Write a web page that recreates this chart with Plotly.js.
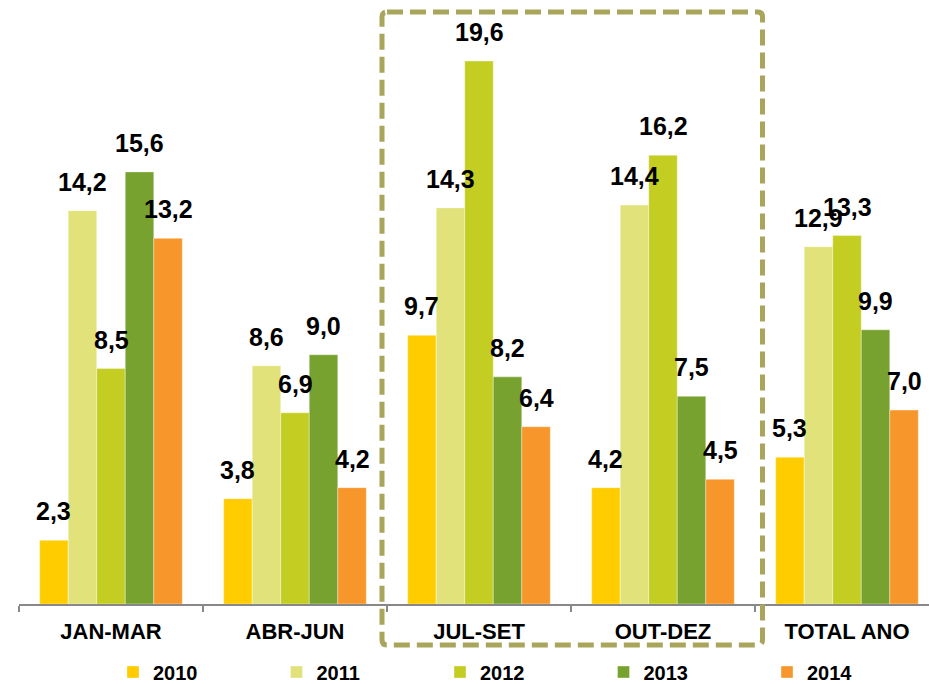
<!DOCTYPE html>
<html>
<head>
<meta charset="utf-8">
<script src="https://cdn.plot.ly/plotly-3.0.1.min.js"></script>
<style>html,body{margin:0;padding:0;background:#fff;}#chart{width:929px;height:684px;}</style>
</head>
<body>
<div id="chart"></div>
<script>
const categories = ['JAN-MAR', 'ABR-JUN', 'JUL-SET', 'OUT-DEZ', 'TOTAL ANO'];
const seriesNames = ['2010', '2011', '2012', '2013', '2014'];
const v2010 = [2.3, 3.8, 9.7, 4.2, 5.3];
const v2011 = [14.2, 8.6, 14.3, 14.4, 12.9];
const v2012 = [8.5, 6.9, 19.6, 16.2, 13.3];
const v2013 = [15.6, 9.0, 8.2, 7.5, 9.9];
const v2014 = [13.2, 4.2, 6.4, 4.5, 7.0];
const seriesValues = [v2010, v2011, v2012, v2013, v2014];
const colors = ['#FFCC00', '#E1E37A', '#C3CD22', '#78A22F', '#F7962B'];

const W = 929, H = 684;
const ml = 19, mb = 80, mt = 0, mr = 0;
const catPx = 184;          // pixel width of one category
const pxPerUnit = 27.7;     // vertical scale
const plotW = W - ml - mr, plotH = H - mt - mb;
const bargap = 0.225;
const nS = seriesValues.length;
const barW = (1 - bargap) / nS;

const fmt = v => v.toFixed(1).replace('.', ',');

const traces = seriesValues.map((vals, k) => ({
  type: 'bar',
  name: seriesNames[k],
  x: categories,
  y: vals,
  marker: {color: colors[k], line: {color: 'rgba(255,255,255,0.6)', width: 0.6}},
  hoverinfo: 'skip'
}));

const annotations = [];
seriesValues.forEach((vals, k) => {
  vals.forEach((v, i) => {
    annotations.push({
      x: i + (k - (nS - 1) / 2) * barW,
      y: v,
      xref: 'x', yref: 'y',
      text: fmt(v),
      showarrow: false,
      xanchor: 'center', yanchor: 'bottom',
      yshift: 13,
      font: {family: 'Liberation Sans, Arial, sans-serif', size: 25, color: '#000', weight: 'bold'}
    });
  });
});

// dashed highlight box (paper coordinates)
const bx0 = (382 - ml) / plotW, bx1 = (762.5 - ml) / plotW;
const by1 = 1 - (12 - mt) / plotH, by0 = 1 - (645 - mt) / plotH;
const rx = 5 / plotW, ry = 5 / plotH;
const boxPath = `M${bx0 + rx},${by1} L${bx1 - rx},${by1} Q${bx1},${by1} ${bx1},${by1 - ry} ` +
  `L${bx1},${by0 + ry} Q${bx1},${by0} ${bx1 - rx},${by0} L${bx0 + rx},${by0} ` +
  `Q${bx0},${by0} ${bx0},${by0 + ry} L${bx0},${by1 - ry} Q${bx0},${by1} ${bx0 + rx},${by1} Z`;

const layout = {
  width: W, height: H,
  margin: {l: ml, r: mr, t: mt, b: mb, pad: 0, autoexpand: false},
  paper_bgcolor: '#fff', plot_bgcolor: '#fff',
  barmode: 'group', bargap: bargap, bargroupgap: 0,
  showlegend: true,
  font: {family: 'Liberation Sans, Arial, sans-serif', color: '#000'},
  xaxis: {
    type: 'category',
    range: [-0.5, -0.5 + plotW / catPx],
    automargin: false,
    showline: true, linecolor: '#888888', linewidth: 2,
    ticks: 'outside', tickson: 'boundaries', ticklen: 6, tickwidth: 2, tickcolor: '#888888',
    showgrid: false, zeroline: false,
    tickfont: {family: 'Liberation Sans, Arial, sans-serif', size: 22, color: '#000', weight: 'bold'},
    ticklabelstandoff: 7
  },
  yaxis: {
    range: [0, plotH / pxPerUnit],
    automargin: false,
    showticklabels: false, showgrid: false, zeroline: false, showline: false, ticks: ''
  },
  legend: {
    orientation: 'h',
    x: (522 - ml) / plotW, xanchor: 'center',
    y: 1 - (672 - mt) / plotH, yanchor: 'middle',
    entrywidth: 118.5, entrywidthmode: 'pixels',
    font: {family: 'Liberation Sans, Arial, sans-serif', size: 20, color: '#000', weight: 'bold'},
    bgcolor: 'rgba(0,0,0,0)', traceorder: 'normal'
  },
  annotations: annotations,
  shapes: [{
    type: 'path', xref: 'paper', yref: 'paper', path: boxPath,
    line: {color: '#A9A65B', width: 5, dash: '16px,7px'},
    layer: 'above'
  }]
};

Plotly.newPlot('chart', traces, layout, {displayModeBar: false, staticPlot: true});
</script>
</body>
</html>
